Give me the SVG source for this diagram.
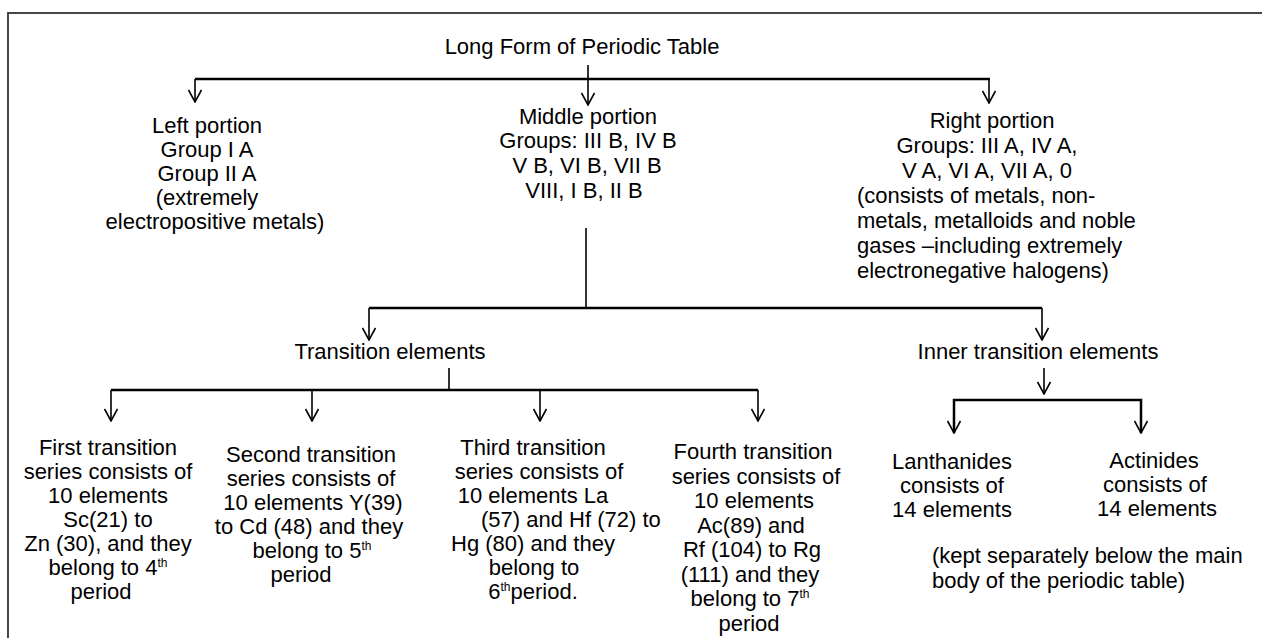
<svg xmlns="http://www.w3.org/2000/svg" width="1262" height="638" viewBox="0 0 1262 638">
<style>
text{font-family:"Liberation Sans",Arial,Helvetica,sans-serif;font-size:22px;fill:#000}
.c{text-anchor:middle}
.h{stroke:#000;stroke-width:2.5;fill:none}
.v{stroke:#000;stroke-width:1.6;fill:none}
.sup{font-size:12px}
</style>
<defs>
<marker id="arr" viewBox="0 0 14 14" refX="13" refY="7" markerWidth="14" markerHeight="14" markerUnits="userSpaceOnUse" orient="auto">
<path d="M1,0.5 L13,7 L1,13.5" fill="none" stroke="#000" stroke-width="1.6"/>
</marker>
</defs>
<rect x="8" y="13" width="1400" height="800" fill="#fff" stroke="#333" stroke-width="1.8"/>
<g id="connectors">
<path class="h" d="M195,79 H990"/>
<path class="v" d="M588,65 V105" marker-end="url(#arr)"/>
<path class="v" d="M195,79 V102" marker-end="url(#arr)"/>
<path class="v" d="M989,79 V103" marker-end="url(#arr)"/>
<path class="v" d="M586,228 V308"/>
<path class="h" d="M369,308 H1042"/>
<path class="v" d="M369,308 V340" marker-end="url(#arr)"/>
<path class="v" d="M1042,308 V340" marker-end="url(#arr)"/>
<path class="v" d="M449,368 V390"/>
<path class="h" d="M111,390 H758"/>
<path class="v" d="M111,390 V421" marker-end="url(#arr)"/>
<path class="v" d="M312,390 V421" marker-end="url(#arr)"/>
<path class="v" d="M540,390 V421" marker-end="url(#arr)"/>
<path class="v" d="M758,390 V421" marker-end="url(#arr)"/>
<path class="v" d="M1044,368 V394" marker-end="url(#arr)"/>
<path class="h" d="M954,433 V400 H1141 V433"/>
<path class="v" d="M954,400 V433" marker-end="url(#arr)"/>
<path class="v" d="M1141,400 V433" marker-end="url(#arr)"/>
</g>
<g id="title"><text class="c" x="582" y="54">Long Form of Periodic Table</text></g>
<g id="left">
<text class="c" x="207" y="133">Left portion</text>
<text class="c" x="207" y="157">Group I A</text>
<text class="c" x="207" y="181">Group II A</text>
<text class="c" x="207" y="205">(extremely</text>
<text class="c" x="215" y="229">electropositive metals)</text>
</g>
<g id="middle">
<text class="c" x="588" y="124">Middle portion</text>
<text class="c" x="588" y="148">Groups: III B, IV B</text>
<text class="c" x="587" y="173">V B, VI B, VII B</text>
<text class="c" x="584" y="198">VIII, I B, II B</text>
</g>
<g id="right">
<text class="c" x="992" y="128">Right portion</text>
<text class="c" x="987" y="153">Groups: III A, IV A,</text>
<text class="c" x="987" y="178">V A, VI A, VII A, 0</text>
<text x="857" y="203">(consists of metals, non-</text>
<text x="857" y="228">metals, metalloids and noble</text>
<text x="857" y="253">gases –including extremely</text>
<text x="857" y="278">electronegative halogens)</text>
</g>
<g id="transition"><text class="c" x="390" y="359">Transition elements</text></g>
<g id="inner"><text class="c" x="1038" y="359">Inner transition elements</text></g>
<g id="first">
<text class="c" x="108" y="455">First transition</text>
<text class="c" x="108" y="479">series consists of</text>
<text class="c" x="108" y="503">10 elements</text>
<text class="c" x="108" y="527">Sc(21) to</text>
<text class="c" x="108" y="551">Zn (30), and they</text>
<text class="c" x="108" y="575">belong to 4<tspan class="sup" dy="-8">th</tspan></text>
<text class="c" x="101" y="599">period</text>
</g>
<g id="second">
<text class="c" x="311" y="462">Second transition</text>
<text class="c" x="311" y="486">series consists of</text>
<text class="c" x="313" y="510">10 elements Y(39)</text>
<text class="c" x="309" y="534">to Cd (48) and they</text>
<text class="c" x="312" y="558">belong to 5<tspan class="sup" dy="-8">th</tspan></text>
<text class="c" x="301" y="582">period</text>
</g>
<g id="third">
<text class="c" x="533" y="455">Third transition</text>
<text class="c" x="539" y="479">series consists of</text>
<text class="c" x="533" y="503">10 elements La</text>
<text x="481" y="527">(57) and Hf (72) to</text>
<text class="c" x="533" y="551">Hg (80) and they</text>
<text class="c" x="534" y="575">belong to</text>
<text class="c" x="533" y="599">6<tspan class="sup" dy="-8">th</tspan><tspan dy="8">period.</tspan></text>
</g>
<g id="fourth">
<text class="c" x="753" y="459">Fourth transition</text>
<text class="c" x="756" y="483.5">series consists of</text>
<text class="c" x="754" y="508">10 elements</text>
<text class="c" x="751" y="532.5">Ac(89) and</text>
<text class="c" x="752" y="557">Rf (104) to Rg</text>
<text class="c" x="750" y="581.5">(111) and they</text>
<text class="c" x="750" y="606">belong to 7<tspan class="sup" dy="-8">th</tspan></text>
<text class="c" x="749" y="630.5">period</text>
</g>
<g id="lanthanides">
<text class="c" x="952" y="469">Lanthanides</text>
<text class="c" x="952" y="493">consists of</text>
<text class="c" x="952" y="517">14 elements</text>
</g>
<g id="actinides">
<text class="c" x="1154" y="468">Actinides</text>
<text class="c" x="1155" y="492">consists of</text>
<text class="c" x="1157" y="516">14 elements</text>
</g>
<g id="note">
<text x="932" y="563">(kept separately below the main</text>
<text x="932" y="588">body of the periodic table)</text>
</g>
</svg>
